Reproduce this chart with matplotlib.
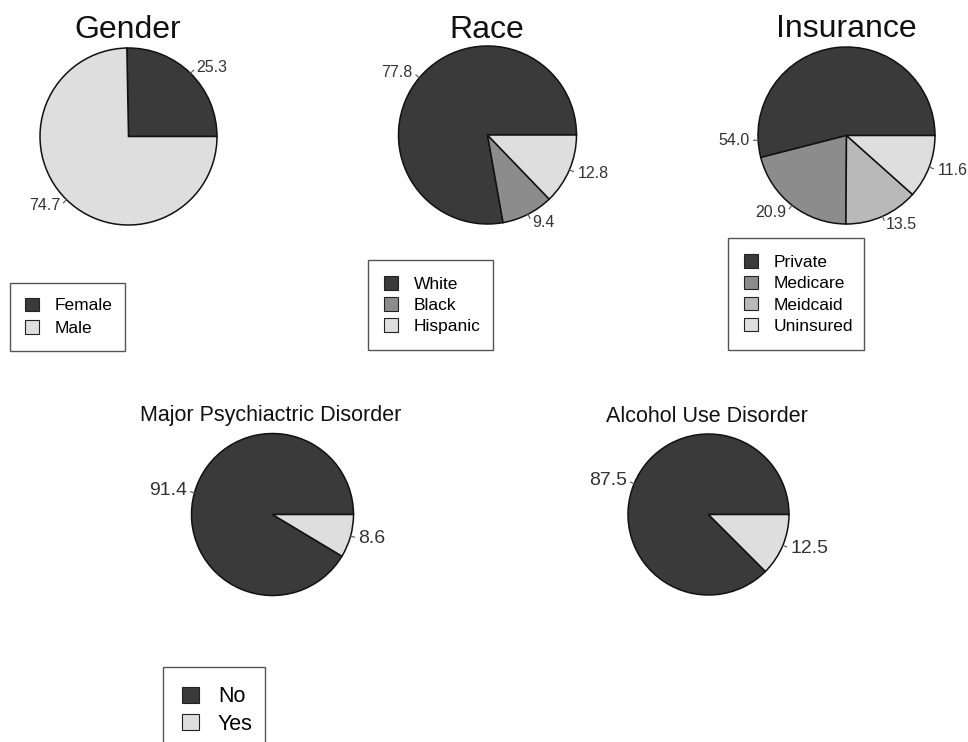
import matplotlib
matplotlib.use("Agg")
import matplotlib.pyplot as plt
import numpy as np
from matplotlib.patches import Patch

plt.rcParams["font.family"] = ["Liberation Sans", "DejaVu Sans"]

gender_labels = ["Female", "Male"]
gender_values = [25.3, 74.7]
race_labels = ["White", "Black", "Hispanic"]
race_values = [77.8, 9.4, 12.8]
ins_labels = ["Private", "Medicare", "Meidcaid", "Uninsured"]
ins_values = [54.0, 20.9, 13.5, 11.6]
yesno_labels = ["No", "Yes"]
psych_values = [91.4, 8.6]
alcohol_values = [87.5, 12.5]

DARK = "#3a3a3a"
MID = "#8c8c8c"
LMID = "#b9b9b9"
LIGHT = "#dedede"

W, H = 968, 742
fig = plt.figure(figsize=(W / 100, H / 100), dpi=100)


def pie(cx, cy, r, values, colors, fs, label_angle=None):
    # R style pie: counterclockwise from 3 o'clock, ticks + labels outside
    pad = 1.7
    ax = fig.add_axes([(cx - r * pad) / W, 1 - (cy + r * pad) / H,
                       2 * r * pad / W, 2 * r * pad / H])
    wedges, _ = ax.pie(values, colors=colors, startangle=0, counterclock=True,
                       wedgeprops=dict(edgecolor="#111111", linewidth=1.1))
    label_angle = label_angle or {}
    for i, (w, v) in enumerate(zip(wedges, values)):
        a = np.deg2rad(label_angle.get(i, (w.theta1 + w.theta2) / 2))
        x, y = np.cos(a), np.sin(a)
        ax.plot([x, 1.05 * x], [y, 1.05 * y], color="#555555", lw=0.8)
        ax.text(1.1 * x, 1.1 * y, "%.1f" % v, ha="left" if x >= 0 else "right",
                va="center", fontsize=fs, color="#333333")
    ax.set_xlim(-pad, pad)
    ax.set_ylim(-pad, pad)
    ax.set_aspect("equal")
    ax.axis("off")
    return ax


def legend(x0, y0, w, labels, colors, fs, hl, tp, ls, bp):
    handles = [Patch(facecolor=c, edgecolor="#222222", lw=0.8) for c in colors]
    fig.legend(handles, labels, loc="upper left", mode="expand",
               bbox_to_anchor=(x0 / W, 1 - y0 / H, w / W, 0),
               borderaxespad=0, fontsize=fs, frameon=True, fancybox=False,
               edgecolor="#555555", framealpha=1, handlelength=hl,
               handleheight=hl, handletextpad=tp, labelspacing=ls, borderpad=bp)


def title(x, y, s, fs):
    fig.text(x / W, 1 - y / H, s, ha="center", va="baseline", fontsize=fs, color="#111111")


# top row
pie(128.5, 136.5, 88.5, gender_values, [DARK, LIGHT], 11.5)
pie(487.5, 135, 89, race_values, [DARK, MID, LIGHT], 11.5)
# the Private label sits on the left in the original, not at mid-slice
pie(846.5, 135.5, 88.5, ins_values, [DARK, MID, LMID, LIGHT], 11.5, {0: 183})
title(128, 38, "Gender", 23)
title(487, 38, "Race", 23)
title(846, 37, "Insurance", 23)
legend(10, 283, 115, gender_labels, [DARK, LIGHT], 12.5, 0.8, 0.9, 0.4, 0.85)
legend(368, 260, 125, race_labels, [DARK, MID, LIGHT], 12.5, 0.8, 0.9, 0.3, 0.95)
legend(728, 238, 136, ins_labels, [DARK, MID, LMID, LIGHT], 12.5, 0.8, 0.9, 0.32, 0.95)

# bottom row
pie(272.5, 514.5, 81, psych_values, [DARK, LIGHT], 14)
pie(708.5, 514.5, 80.5, alcohol_values, [DARK, LIGHT], 14)
title(271, 421, "Major Psychiactric Disorder", 15.5)
title(707, 422, "Alcohol Use Disorder", 15.5)
legend(163, 667, 102, yesno_labels, [DARK, LIGHT], 15.5, 0.75, 0.9, 0.3, 0.9)

fig.savefig("out.png", dpi=100)
